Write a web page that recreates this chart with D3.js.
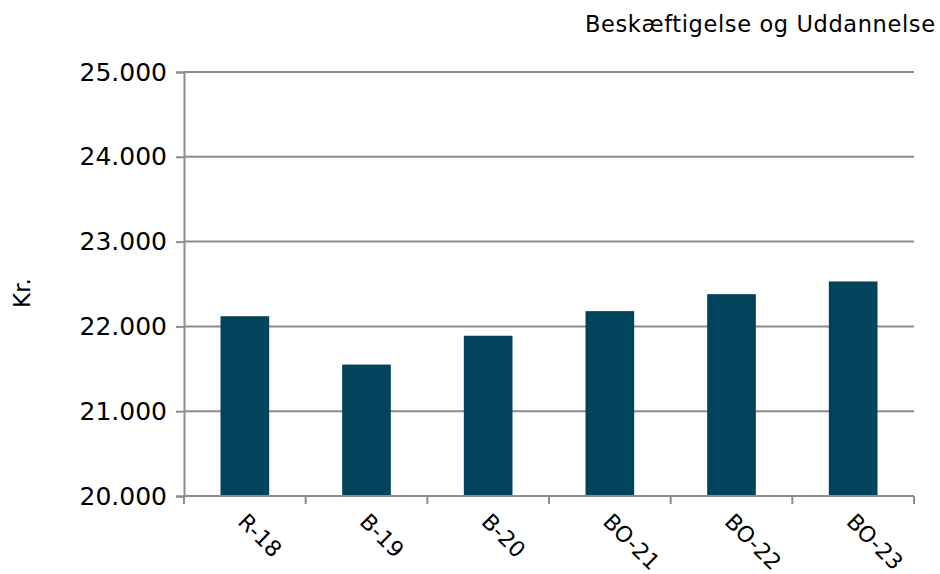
<!DOCTYPE html>
<html lang="da">
<head>
<meta charset="UTF-8">
<title>Beskæftigelse og Uddannelse</title>
<script src="https://d3js.org/d3.v7.min.js"></script>
<style>
    body { margin: 0; background: #fff; }
    svg { display: block; font-family: "DejaVu Sans", Verdana, sans-serif; }
</style>
</head>
<body>
<div id="chart"></div>
<script>
    // Data
    var categories = ["R-18", "B-19", "B-20", "BO-21", "BO-22", "BO-23"];
    var values = [22120, 21550, 21890, 22180, 22380, 22530];
    var yTicks = [20000, 21000, 22000, 23000, 24000, 25000];

    var width = 940, height = 574;
    var margin = { top: 72, right: 26, bottom: 78, left: 184 };
    var innerW = width - margin.left - margin.right;
    var innerH = height - margin.top - margin.bottom;

    var svg = d3.select("#chart").append("svg")
        .attr("width", width)
        .attr("height", height);

    var g = svg.append("g")
        .attr("transform", "translate(" + margin.left + "," + margin.top + ")");

    var x = d3.scaleBand().domain(categories).range([0, innerW]).paddingInner(0.6).paddingOuter(0.3);
    var y = d3.scaleLinear().domain([20000, 25000]).range([innerH, 0]);

    var fmt = function(d) { return d3.format(",")(d).replace(/,/g, "."); };

    // gridlines
    g.selectAll(".grid")
        .data(yTicks.slice(1))
        .enter().append("line")
        .attr("x1", 0).attr("x2", innerW)
        .attr("y1", d => y(d)).attr("y2", d => y(d))
        .attr("stroke", "#8c8c8c")
        .attr("stroke-width", 2);

    // bars
    g.selectAll(".bar")
        .data(values)
        .enter().append("rect")
        .attr("x", (d, i) => x(categories[i]))
        .attr("y", d => y(d))
        .attr("width", x.bandwidth())
        .attr("height", d => innerH - y(d))
        .attr("fill", "#00435a");

    // y axis
    var yAxis = g.append("g")
        .call(d3.axisLeft(y).tickValues(yTicks).tickFormat(fmt).tickSize(8).tickPadding(9));
    yAxis.select(".domain").attr("stroke", "#8c8c8c").attr("stroke-width", 2);
    yAxis.selectAll(".tick line").attr("stroke", "#8c8c8c").attr("stroke-width", 2);
    yAxis.selectAll("text")
        .attr("font-family", "DejaVu Sans, Verdana, sans-serif")
        .attr("font-size", 25)
        .attr("fill", "#000");

    // x axis with ticks on band boundaries
    var xa = g.append("g").attr("transform", "translate(0," + innerH + ")");
    xa.append("line")
        .attr("x1", 0).attr("x2", innerW)
        .attr("stroke", "#8c8c8c").attr("stroke-width", 2);
    var step = innerW / categories.length;
    xa.selectAll(".xtick")
        .data(d3.range(categories.length + 1))
        .enter().append("line")
        .attr("x1", d => d * step).attr("x2", d => d * step)
        .attr("y1", 0).attr("y2", 8)
        .attr("stroke", "#8c8c8c").attr("stroke-width", 2);

    xa.selectAll(".xlabel")
        .data(categories)
        .enter().append("text")
        .attr("transform", d => "translate(" + (x(d) + x.bandwidth() / 2 - 8) + ",27) rotate(45)")
        .attr("font-size", 22)
        .attr("fill", "#000")
        .text(d => d);

    // y axis title
    svg.append("text")
        .attr("transform", "translate(30,293) rotate(-90)")
        .attr("text-anchor", "middle")
        .attr("font-size", 23)
        .attr("fill", "#000")
        .text("Kr.");

    // chart title, top right
    svg.append("text")
        .attr("x", 935)
        .attr("y", 32)
        .attr("text-anchor", "end")
        .attr("font-size", 22.5)
        .attr("textLength", 350)
        .attr("lengthAdjust", "spacing")
        .attr("fill", "#000")
        .text("Beskæftigelse og Uddannelse");
</script>
</body>
</html>
